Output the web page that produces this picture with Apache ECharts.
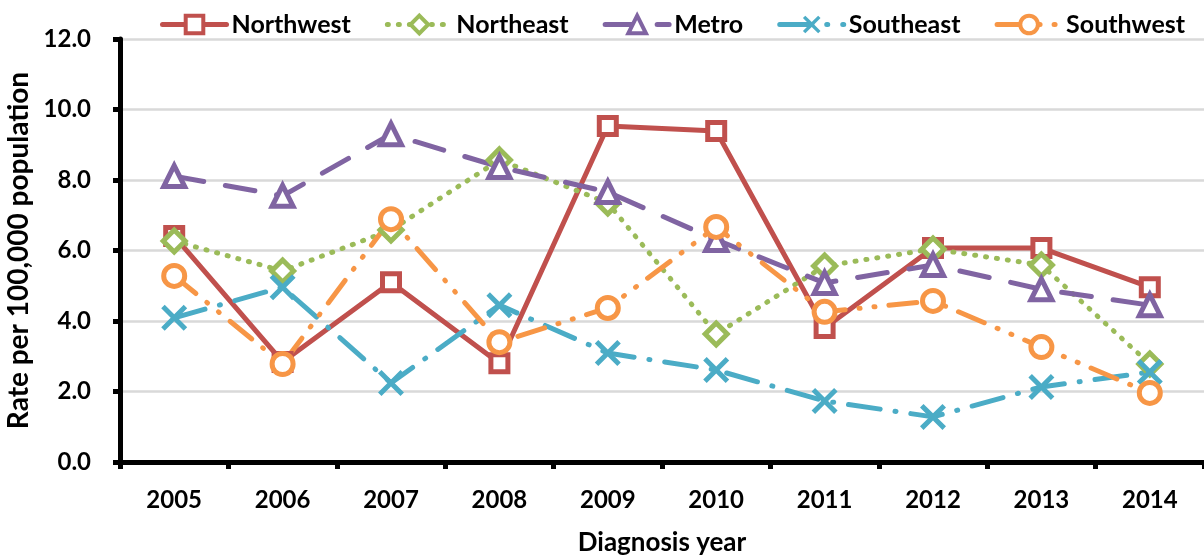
<!DOCTYPE html>
<html><head><meta charset="utf-8">
<script src="https://cdn.jsdelivr.net/npm/echarts@6/dist/echarts.min.js"></script>
<style>html,body{margin:0;padding:0;background:#fff}#c{width:1204px;height:559px}</style>
</head><body><div id="c"></div>
<script>
const categories = ['2005','2006','2007','2008','2009','2010','2011','2012','2013','2014'];
const northwest = [6.41, 2.84, 5.10, 2.80, 9.53, 9.39, 3.80, 6.07, 6.07, 4.96];
const northeast = [6.27, 5.42, 6.58, 8.57, 7.35, 3.63, 5.56, 6.04, 5.59, 2.78];
const metro     = [8.11, 7.55, 9.30, 8.37, 7.66, 6.30, 5.08, 5.59, 4.90, 4.45];
const southeast = [4.09, 4.96, 2.24, 4.45, 3.09, 2.61, 1.73, 1.28, 2.13, 2.55];
const southwest = [5.28, 2.78, 6.89, 3.40, 4.37, 6.67, 4.26, 4.57, 3.26, 1.96];
const yTicks = [0, 2, 4, 6, 8, 10, 12];

const FONT = 'Lato, "Liberation Sans", sans-serif';
const xPath = 'path://M2.7,0L10,7.3L17.3,0L20,2.7L12.7,10L20,17.3L17.3,20L10,12.7L2.7,20L0,17.3L7.3,10L0,2.7Z';

function mk(name, data, color, dash, symbol, size, hollow) {
  return {
    name, type: 'line', data,
    symbol, symbolSize: size,
    lineStyle: { color, width: 5, type: dash, cap: 'round', join: 'round' },
    itemStyle: hollow ? { color: '#fff', borderColor: color, borderWidth: 5 } : { color, borderWidth: 0 },
    emphasis: { disabled: true },
    z: 2
  };
}

const chart = echarts.init(document.getElementById('c'), null, { renderer: 'canvas' });
chart.setOption({
  animation: false,
  backgroundColor: '#fff',
  textStyle: { fontFamily: FONT },
  legend: {
    top: 7, left: 155, itemWidth: 64, itemHeight: 22, itemGap: 34,
    lineStyle: { width: 5 },
    itemStyle: { borderWidth: 4 },
    textStyle: { fontFamily: FONT, fontWeight: 'bold', fontSize: 25, color: '#000' },
    data: ['Northwest', 'Northeast', 'Metro', 'Southeast', 'Southwest']
  },
  grid: { left: 120, right: 0, top: 39, bottom: 97, outerBoundsMode: 'none', containLabel: false },
  xAxis: {
    type: 'category', data: categories, boundaryGap: true,
    name: 'Diagnosis year', nameLocation: 'middle', nameGap: 68,
    nameTextStyle: { fontFamily: FONT, fontWeight: 'bold', fontSize: 26, color: '#000' },
    axisLine: { lineStyle: { color: '#000', width: 5 } },
    axisTick: { show: true, length: 7, lineStyle: { color: '#000', width: 5 } },
    axisLabel: { fontFamily: FONT, fontWeight: 'bold', fontSize: 24, color: '#000', margin: 26 },
    splitLine: { show: false }
  },
  yAxis: {
    type: 'value', min: yTicks[0], max: yTicks[yTicks.length - 1], interval: 2,
    name: 'Rate per 100,000 population', nameLocation: 'middle', nameGap: 86,
    nameTextStyle: { fontFamily: FONT, fontWeight: 'bold', fontSize: 28, color: '#000' },
    axisLine: { show: true, lineStyle: { color: '#000', width: 5 } },
    axisTick: { show: true, length: 7, lineStyle: { color: '#000', width: 5 } },
    axisLabel: { fontFamily: FONT, fontWeight: 'bold', fontSize: 24, color: '#000', margin: 29,
      formatter: v => v.toFixed(1) },
    splitLine: { lineStyle: { color: '#d9d9d9', width: 2.5 } }
  },
  series: [
    mk('Northwest', northwest, '#C0504D', 'solid', 'rect', 17, true),
    mk('Northeast', northeast, '#9BBB59', [1, 10], 'diamond', 22, true),
    mk('Metro', metro, '#8064A2', [30, 22], 'triangle', 21, true),
    mk('Southeast', southeast, '#4BACC6', [32, 15, 1, 15], xPath, 26, false),
    mk('Southwest', southwest, '#F79646', [28, 14, 1, 14, 1, 14], 'circle', 21, true)
  ]
});
</script></body></html>
